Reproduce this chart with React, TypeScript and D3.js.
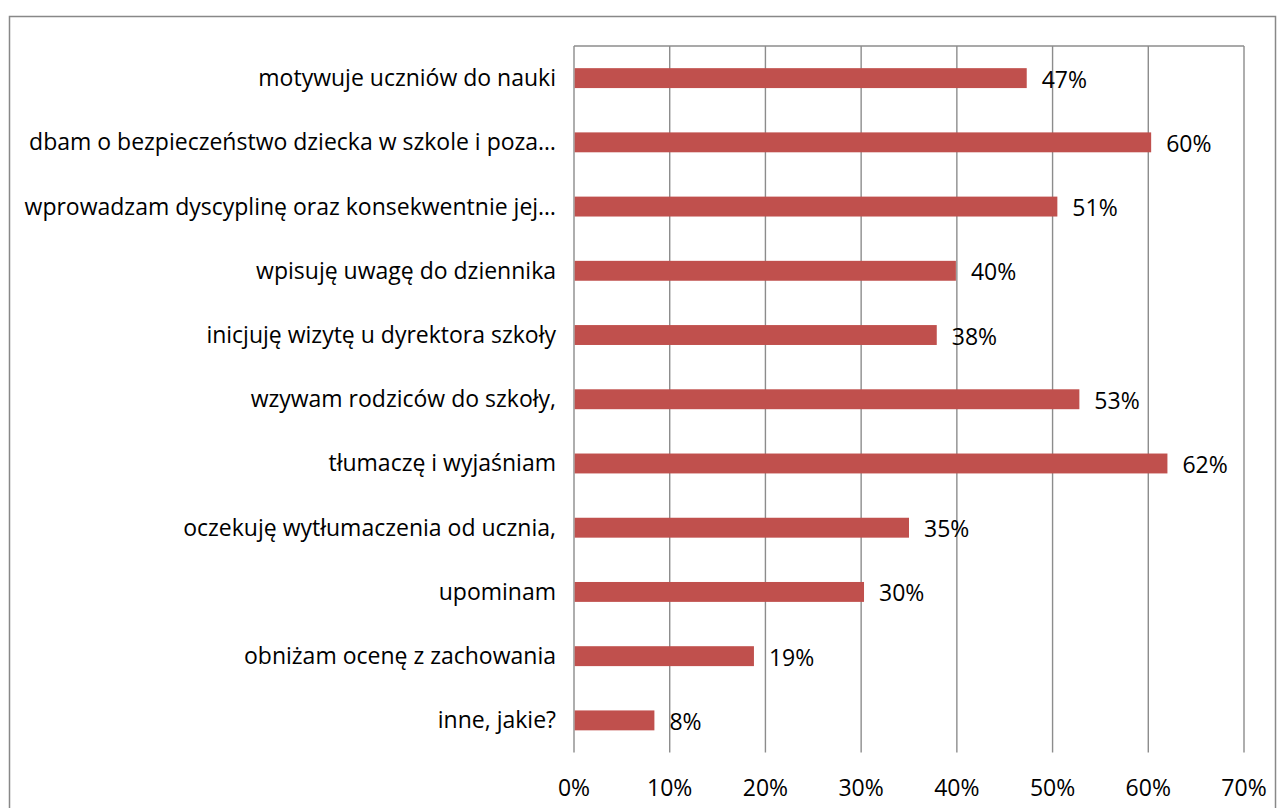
import * as d3 from 'd3';

const categories = [
  'motywuje uczniów do nauki',
  'dbam o bezpieczeństwo dziecka w szkole i poza…',
  'wprowadzam dyscyplinę oraz konsekwentnie jej…',
  'wpisuję uwagę do dziennika',
  'inicjuję wizytę u dyrektora szkoły',
  'wzywam rodziców do szkoły,',
  'tłumaczę i wyjaśniam',
  'oczekuję wytłumaczenia od ucznia,',
  'upominam',
  'obniżam ocenę z zachowania',
  'inne, jakie?',
];
const values = [47.3, 60.3, 50.5, 39.9, 37.9, 52.8, 62.0, 35.0, 30.3, 18.8, 8.4];
const ticks = [0, 10, 20, 30, 40, 50, 60, 70];

const W = 1283;
const H = 808;
const plot = { left: 574, right: 1244, top: 46, bottom: 752.5 };
const FONT = '"Open Sans", Lato, sans-serif';
const FS = 23;
const GRID = '#8c8c8c';

const App = () => {
  const x = d3.scaleLinear().domain([0, 70]).range([plot.left, plot.right]);
  const y = d3
    .scaleBand<string>()
    .domain(categories)
    .range([plot.top, plot.bottom])
    .paddingInner(0.69)
    .paddingOuter(0.345);

  const data = categories.map((c, i) => ({ cat: c, v: values[i] }));

  return (
    <svg
      width={W}
      height={H}
      style={{ position: 'absolute', left: 0, top: 0, background: '#fff' }}
      fontFamily={FONT}
    >
      <rect x={9.5} y={16.5} width={1266} height={820} fill='#fff' stroke='#888' strokeWidth={1.5} />

      {/* gridlines */}
      {ticks.map((t) => (
        <line key={t} x1={x(t)} x2={x(t)} y1={plot.top} y2={plot.bottom} stroke={GRID} strokeWidth={1.4} />
      ))}
      <line x1={plot.left} x2={plot.right} y1={plot.top} y2={plot.top} stroke={GRID} strokeWidth={1.4} />

      {/* bars */}
      {data.map((d) => (
        <rect
          key={d.cat}
          x={x(0) + 0.7}
          y={y(d.cat)}
          width={x(d.v) - x(0) - 0.7}
          height={y.bandwidth()}
          fill='#c0504d'
        />
      ))}

      {/* value labels */}
      {data.map((d) => (
        <text
          key={'v' + d.cat}
          x={x(d.v) + 15}
          y={(y(d.cat) as number) + y.bandwidth() / 2 + 9.5}
          fontSize={FS}
          fill='#000'
        >
          {Math.round(d.v)}%
        </text>
      ))}

      {/* category labels */}
      {data.map((d) => (
        <text
          key={'c' + d.cat}
          x={plot.left - 18}
          y={(y(d.cat) as number) + y.bandwidth() / 2 + 8}
          fontSize={FS}
          textAnchor='end'
          fill='#000'
        >
          {d.cat}
        </text>
      ))}

      {/* x tick labels */}
      {ticks.map((t) => (
        <text key={'t' + t} x={x(t)} y={796} fontSize={FS} textAnchor='middle' fill='#000'>
          {t}%
        </text>
      ))}
    </svg>
  );
};

export default App;
